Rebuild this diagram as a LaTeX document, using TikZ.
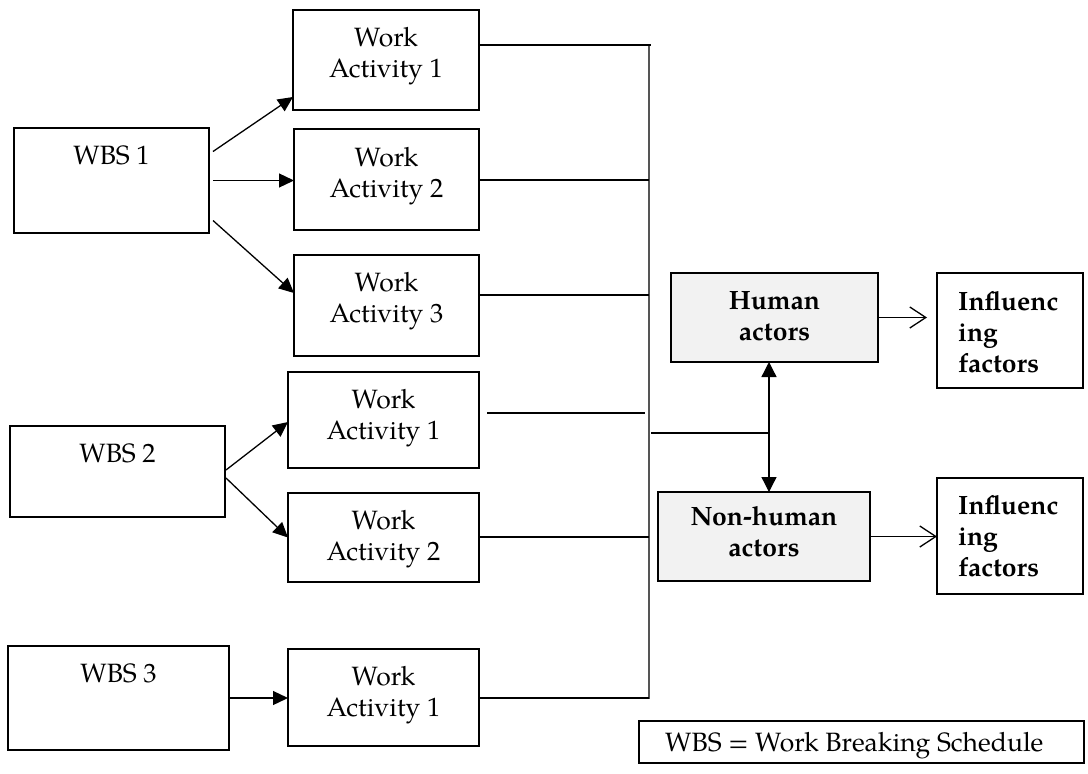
\documentclass[tikz,border=0pt]{standalone}
\usepackage{fontspec}
\setmainfont{TeX Gyre Pagella}
\usetikzlibrary{arrows.meta}
\definecolor{gfill}{HTML}{F2F2F2}
\definecolor{busc}{HTML}{555555}
\begin{document}
\begin{tikzpicture}[x=1pt,y=-1pt,
  box/.style={draw, line width=2.2pt, inner sep=0pt, outer sep=0pt},
  gbox/.style={draw, line width=1.2pt, fill=gfill, inner sep=0pt, outer sep=0pt},
  ibox/.style={draw, line width=1.6pt, inner sep=0pt, outer sep=0pt},
  lab/.style={inner sep=0pt, align=center, anchor=north, font=\fontsize{26.5}{31}\selectfont},
  llab/.style={inner sep=0pt, align=left, anchor=north west, font=\fontsize{26.5}{31}\selectfont\bfseries},
  conn/.style={line width=1.3pt, -{Triangle[length=15pt,width=14pt]}},
  dbl/.style={line width=1.3pt, {Triangle[length=15pt,width=15pt]}-{Triangle[length=15pt,width=15pt]}},
  plain/.style={line width=1.3pt},
  bus/.style={line width=2pt, draw=busc},
  open/.style={line width=1.3pt, -{Straight Barb[length=16pt,width=21pt,line width=1.3pt]}}]
\fill[white] (0,0) rectangle (1088,774);
\useasboundingbox (0,0) rectangle (1088,774);

% left boxes
\node[box, minimum width=195pt, minimum height=105pt] (wbs1) at (111.5,180.5) {};
\node[box, minimum width=215pt, minimum height=91pt] (wbs2) at (117.5,471.5) {};
\node[box, minimum width=221pt, minimum height=104pt] (wbs3) at (118.5,698) {};
\node[lab] (twbs1) at (111.5,146) {WBS 1};
\node[lab] (twbs2) at (117.5,444) {WBS 2};
\node[lab] (twbs3) at (118.5,664) {WBS 3};

% work activity boxes
\node[box, minimum width=186pt, minimum height=100pt] (wa1a) at (386,60) {};
\node[box, minimum width=185pt, minimum height=101pt] (wa2a) at (386.5,179.5) {};
\node[box, minimum width=185pt, minimum height=101pt] (wa3a) at (386.5,305.5) {};
\node[box, minimum width=191pt, minimum height=96pt] (wa1b) at (383.5,420) {};
\node[box, minimum width=191pt, minimum height=89pt] (wa2b) at (383.5,537.5) {};
\node[box, minimum width=191pt, minimum height=97pt] (wa1c) at (383.5,697.5) {};
\node[lab] (twa1a) at (386,27) {Work\\Activity 1};
\node[lab] (twa2a) at (386.5,147) {Work\\Activity 2};
\node[lab] (twa3a) at (386.5,272) {Work\\Activity 3};
\node[lab] (twa1b) at (383.5,389) {Work\\Activity 1};
\node[lab] (twa2b) at (383.5,510) {Work\\Activity 2};
\node[lab] (twa1c) at (383.5,666) {Work\\Activity 1};

% actor boxes
\node[gbox, minimum width=207pt, minimum height=89pt] (human) at (774.5,317.5) {};
\node[gbox, minimum width=212pt, minimum height=89pt] (nonhuman) at (764,536.5) {};
\node[lab, font=\fontsize{26.5}{31}\selectfont\bfseries] (thuman) at (774.5,291) {Human\\actors};
\node[lab, font=\fontsize{26.5}{31}\selectfont\bfseries] (tnonhuman) at (764,506) {Non-human\\actors};

% influencing boxes
\node[ibox, minimum width=146pt, minimum height=115pt] (inf1) at (1010,330.5) {};
\node[ibox, minimum width=146pt, minimum height=116pt] (inf2) at (1010,536) {};
\node[llab] (tinf1) at (958,291) {Influenc\\ing\\factors};
\node[llab] (tinf2) at (958,495) {Influenc\\ing\\factors};

% legend
\node[box, minimum width=445pt, minimum height=42pt] (legend) at (861.5,742) {};
\node[inner sep=0pt, anchor=base west, font=\fontsize{26.5}{31}\selectfont] (tlegend) at (665,751) {WBS = Work Breaking Schedule};

% arrows from WBS boxes
\draw[conn] ([shift={(4,-29)}]wbs1.east) -- ([shift={(0,-13)}]wa1a.south west);
\draw[conn] ([shift={(4,0)}]wbs1.east) -- (wbs1.east -| wa2a.west);
\draw[conn] ([shift={(4,40)}]wbs1.east) -- ([shift={(0,38)}]wa3a.north west);
\draw[conn] ([shift={(1,-1.5)}]wbs2.east) -- ([shift={(0,2)}]wa1b.west);
\draw[conn] ([shift={(1,6.5)}]wbs2.east) -- (wa2b.west);
\draw[conn] (wbs3.east) -- (wbs3.east -| wa1c.west);

% bus
\coordinate (bustop) at (649,44);
\coordinate (busbot) at (649,699);
\coordinate (j1) at (651,45);
\coordinate (j2) at (649,180);
\coordinate (j3) at (649,295);
\coordinate (j4s) at (487,413);
\coordinate (j4) at (645,413);
\coordinate (j5) at (649,537);
\coordinate (j6) at (649,698);
\coordinate (j7) at (651,433);
\coordinate (dx) at (769,0);
\draw[bus] (bustop) -- (busbot);
\draw[plain] (wa1a.east |- j1) -- (j1);
\draw[plain] (wa2a.east |- j2) -- (j2);
\draw[plain] (wa3a.east |- j3) -- (j3);
\draw[plain] (j4s) -- (j4);
\draw[plain] (wa2b.east |- j5) -- (j5);
\draw[plain] (wa1c.east |- j6) -- (j6);
\draw[plain] (j7) -- (j7 -| dx);
\draw[dbl] (dx |- human.south) -- (dx |- nonhuman.north);

% to influencing factors
\draw[open] (human.east) -- ++(49,0);
\draw[open] (nonhuman.east) -- (nonhuman.east -| inf2.west);
\end{tikzpicture}
\end{document}
